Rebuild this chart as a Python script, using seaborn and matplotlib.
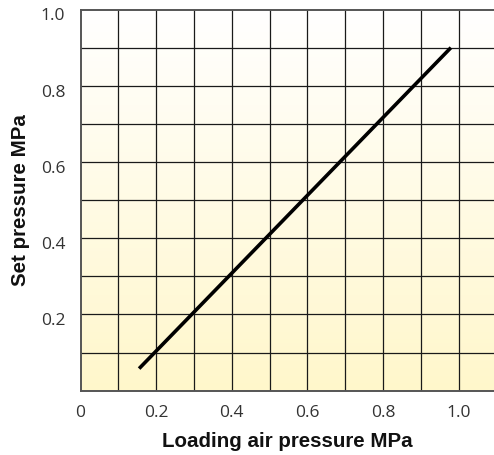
import numpy as np
import matplotlib
matplotlib.use("Agg")
import matplotlib.pyplot as plt
import matplotlib.transforms as mtransforms
import seaborn as sns
import pandas as pd
from matplotlib.colors import LinearSegmentedColormap

loading_pressure = [0.155, 0.98]
set_pressure = [0.058, 0.90]
x_ticks = [0, 0.2, 0.4, 0.6, 0.8, 1.0]
x_tick_labels = ["0", "0.2", "0.4", "0.6", "0.8", "1.0"]
y_ticks = [0.2, 0.4, 0.6, 0.8, 1.0]
y_tick_labels = ["0.2", "0.4", "0.6", "0.8", "1.0"]

sns.set_theme(style="white")
plt.rcParams['font.family'] = ['Liberation Sans', 'DejaVu Sans']

fig = plt.figure(figsize=(4.94, 4.55), dpi=100)
ax = fig.add_axes([80.5/494, (455-390.7)/455, 1 - 80.5/494, (390.7-9.5)/455])

xmax = (494 - 80.5) / 378.0
# background gradient: white at top, pale yellow at bottom
cmap = LinearSegmentedColormap.from_list("bg", ["#FFFFFF", "#FFF7CB"])
grad = np.linspace(1, 0, 256).reshape(-1, 1)
ax.imshow(grad, extent=[0, xmax, 0, 1.0], origin="lower", cmap=cmap,
          aspect="auto", zorder=0)

# grid
for gx in np.arange(0.1, xmax, 0.1):
    ax.axvline(gx, color="#1a1a1a", lw=0.9, zorder=1)
for gy in np.arange(0.1, 1.0, 0.1):
    ax.axhline(gy, color="#1a1a1a", lw=0.9, zorder=1)

df = pd.DataFrame({"x": loading_pressure, "y": set_pressure})
sns.lineplot(data=df, x="x", y="y", ax=ax, color="black", lw=2.6, zorder=3,
             solid_capstyle="butt")

ax.set_xlim(0, xmax)
ax.set_ylim(0, 1.0)
ax.set_xticks(x_ticks)
ax.set_xticklabels(x_tick_labels, family="Open Sans", fontweight="normal")
ax.set_yticks(y_ticks)
ax.set_yticklabels(y_tick_labels, family="Open Sans", fontweight="normal")
ax.tick_params(axis="both", length=0, labelsize=12.5, colors="#333333")
ax.tick_params(axis="x", pad=10)
ax.tick_params(axis="y", pad=11)
offset = mtransforms.ScaledTranslation(0, -5/100, fig.dpi_scale_trans)
for lbl in ax.get_yticklabels():
    lbl.set_transform(lbl.get_transform() + offset)

ax.spines["right"].set_visible(False)
for s in ["top", "left", "bottom"]:
    ax.spines[s].set_color("#555555")
    ax.spines[s].set_linewidth(1.4)

ax.set_xlabel("Loading air pressure MPa", fontsize=14.8, fontweight="bold",
              color="#111111", labelpad=8)
ax.set_ylabel("Set pressure MPa", fontsize=14.8, fontweight="bold",
              color="#111111", labelpad=8)

fig.savefig("out.png", dpi=100)
